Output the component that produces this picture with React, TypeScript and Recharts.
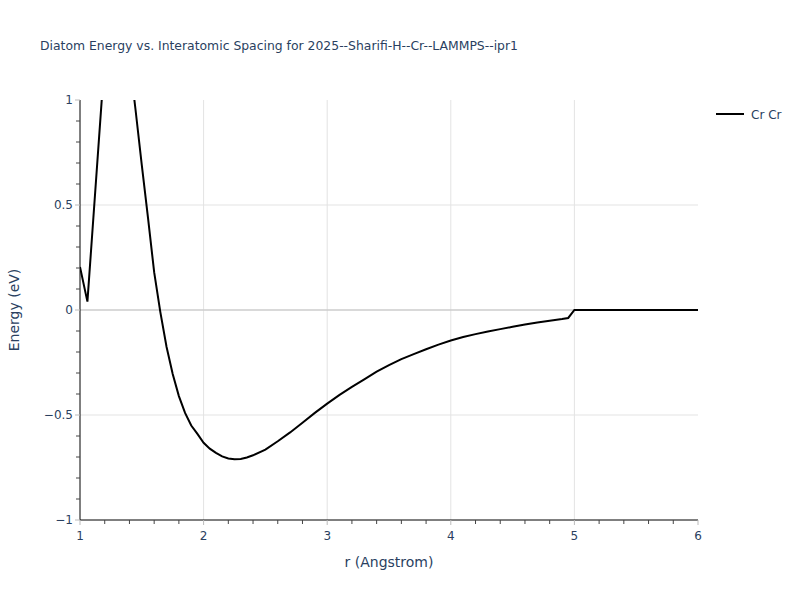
import React from 'react';
import { LineChart, Line, XAxis, YAxis, CartesianGrid, ReferenceLine } from 'recharts';

const rValues = [1.0, 1.06, 1.2, 1.3, 1.4, 1.45, 1.5, 1.55, 1.6, 1.65, 1.7, 1.75, 1.8, 1.85, 1.9, 1.95, 2.0, 2.05, 2.1, 2.15, 2.2, 2.25, 2.3, 2.35, 2.4, 2.5, 2.6, 2.7, 2.8, 2.9, 3.0, 3.1, 3.2, 3.3, 3.4, 3.5, 3.6, 3.7, 3.8, 3.9, 4.0, 4.1, 4.2, 4.3, 4.4, 4.5, 4.6, 4.7, 4.8, 4.9, 4.95, 5.0, 5.5, 6.0];
const energyValues = [0.205, 0.04, 1.2, 1.6, 1.2, 0.95, 0.69, 0.44, 0.18, -0.01, -0.175, -0.305, -0.41, -0.49, -0.55, -0.59, -0.632, -0.66, -0.68, -0.697, -0.707, -0.711, -0.709, -0.702, -0.692, -0.665, -0.625, -0.583, -0.537, -0.49, -0.446, -0.404, -0.366, -0.33, -0.294, -0.262, -0.234, -0.21, -0.187, -0.165, -0.145, -0.129, -0.115, -0.102, -0.091, -0.08, -0.069, -0.059, -0.051, -0.043, -0.038, 0, 0, 0];
const xTicks = [1, 1.2, 1.4, 1.6, 1.8, 2, 2.2, 2.4, 2.6, 2.8, 3, 3.2, 3.4, 3.6, 3.8, 4, 4.2, 4.4, 4.6, 4.8, 5, 5.2, 5.4, 5.6, 5.8, 6];
const yTicks = [-1, -0.9, -0.8, -0.7, -0.6, -0.5, -0.4, -0.3, -0.2, -0.1, 0, 0.1, 0.2, 0.3, 0.4, 0.5, 0.6, 0.7, 0.8, 0.9, 1];
const seriesName = 'Cr Cr';
const titleText = 'Diatom Energy vs. Interatomic Spacing for 2025--Sharifi-H--Cr--LAMMPS--ipr1';

const data = rValues.map((r, i) => ({ r, e: energyValues[i] }));

const FONT = '"DejaVu Sans", Verdana, sans-serif';
const TXT = '#2a3f5f';
const TICK_SIZE = 5;
const X_TICK_MARGIN = 6;
const Y_TICK_MARGIN = 4;

const isMajorX = (v: number) => Math.abs(v - Math.round(v)) < 1e-6;
const isMajorY = (v: number) => Math.abs(v * 2 - Math.round(v * 2)) < 1e-6;
const fmtY = (v: number) => {
  const s = String(Math.round(v * 10) / 10);
  return v < 0 ? '\u2212' + s.slice(1) : s;
};

const XTick = (props: any) => {
  const { x, y, payload } = props;
  const v = payload.value as number;
  const axisY = y - TICK_SIZE - X_TICK_MARGIN;
  const major = isMajorX(v);
  return (
    <g>
      <line x1={x} x2={x} y1={axisY} y2={axisY + (major ? 5 : 4)} stroke={major ? '#bbbbbb' : '#444444'} strokeWidth={1} />
      {major && (
        <text x={x} y={axisY + 20} textAnchor="middle" fontSize={12} fill={TXT} fontFamily={FONT}>
          {String(Math.round(v))}
        </text>
      )}
    </g>
  );
};

const YTick = (props: any) => {
  const { x, y, payload } = props;
  const v = payload.value as number;
  const axisX = x + TICK_SIZE + Y_TICK_MARGIN;
  const major = isMajorY(v);
  return (
    <g>
      <line x1={axisX} x2={axisX - (major ? 5 : 4)} y1={y} y2={y} stroke={major ? '#bbbbbb' : '#444444'} strokeWidth={1} />
      {major && (
        <text x={axisX - 7} y={y + 4} textAnchor="end" fontSize={12} fill={TXT} fontFamily={FONT}>
          {fmtY(v)}
        </text>
      )}
    </g>
  );
};

export default function App() {
  return (
    <div style={{ position: 'absolute', left: 0, top: 0, width: 800, height: 600, background: '#fff', fontFamily: FONT }}>
      <svg style={{ position: 'absolute', left: 0, top: 0 }} width={800} height={600}>
        <text x={40} y={50} fontSize={12.4} fill={TXT} fontFamily={FONT}>{titleText}</text>
        <line x1={716} y1={114} x2={744} y2={114} stroke="#000" strokeWidth={2} />
        <text x={751} y={118.5} fontSize={12} fill={TXT} fontFamily={FONT}>{seriesName}</text>
      </svg>
      <LineChart
        width={800}
        height={600}
        data={data}
        margin={{ top: 100, right: 102, bottom: 50, left: 20 }}
        style={{ position: 'absolute', left: 0, top: 0 }}
      >
        <CartesianGrid stroke="#e3e3e3" strokeWidth={1} horizontalValues={[-0.5, 0.5]} verticalValues={[2, 3, 4, 5]} />
        <ReferenceLine y={0} stroke="#cccccc" strokeWidth={1.5} ifOverflow="hidden" />
        <XAxis
          type="number"
          dataKey="r"
          domain={[1, 6]}
          ticks={xTicks}
          interval={0}
          height={30}
          axisLine={{ stroke: '#000', strokeWidth: 1 }}
          tickSize={TICK_SIZE}
          tickMargin={X_TICK_MARGIN}
          tickLine={false}
          tick={XTick}
          allowDataOverflow
          label={{ value: 'r (Angstrom)', position: 'insideBottom', offset: -17, fill: TXT, fontSize: 14, fontFamily: FONT }}
        />
        <YAxis
          type="number"
          domain={[-1, 1]}
          ticks={yTicks}
          interval={0}
          width={60}
          axisLine={{ stroke: '#000', strokeWidth: 1 }}
          tickSize={TICK_SIZE}
          tickMargin={Y_TICK_MARGIN}
          tickLine={false}
          tick={YTick}
          allowDataOverflow
          label={{ value: 'Energy (eV)', angle: -90, position: 'insideLeft', offset: -6, fill: TXT, fontSize: 14, fontFamily: FONT, style: { textAnchor: 'middle' } }}
        />
        <Line
          type="linear"
          dataKey="e"
          stroke="#000"
          strokeWidth={2}
          dot={false}
          activeDot={false}
          isAnimationActive={false}
          name={seriesName}
        />
      </LineChart>
    </div>
  );
}
